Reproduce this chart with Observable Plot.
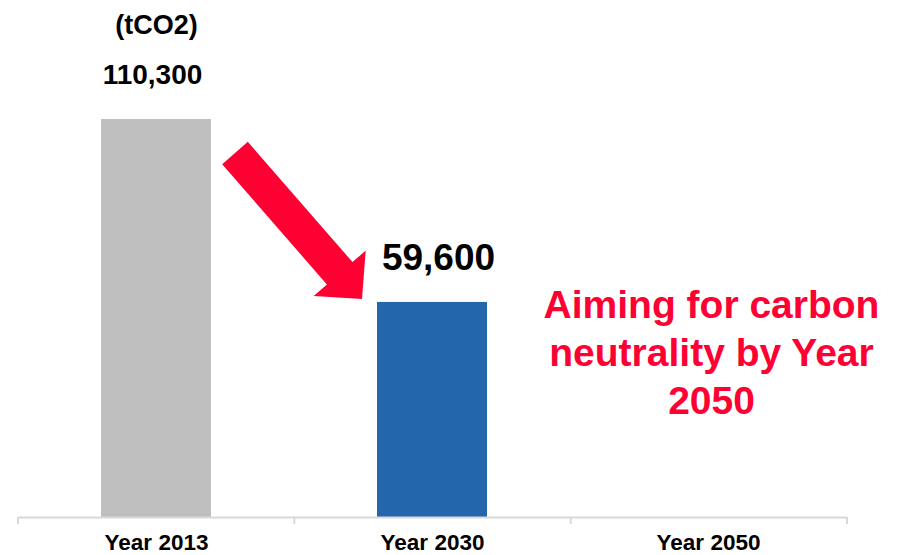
<!DOCTYPE html>
<html>
<head>
<meta charset="utf-8">
<script src="https://cdn.jsdelivr.net/npm/d3@7"></script>
<script src="https://cdn.jsdelivr.net/npm/@observablehq/plot@0.6"></script>
<style>
  html, body { margin: 0; padding: 0; background: #ffffff; }
  #chart svg { display: block; }
  #chart text { font-family: "Liberation Sans", Arial, sans-serif; }
</style>
</head>
<body>
<div id="chart"></div>
<script>
const categories = ["Year 2013", "Year 2030", "Year 2050"];
const emissions = [110300, 59600, null];
const barColors = ["#bfbfbf", "#2366ab", "#ffffff"];
const valueLabels = ["110,300", "59,600", ""];
const unitLabel = "(tCO2)";
const targetText = "Aiming for carbon\nneutrality by Year\n2050";
const accent = "#ff0033";

const data = categories.map((c, i) => ({
  category: c, value: emissions[i], color: barColors[i], label: valueLabels[i]
}));
const bars = data.filter(d => d.value != null);

const plot = Plot.plot({
  width: 897,
  height: 555,
  marginLeft: 18,
  marginRight: 50,
  marginTop: 84,
  marginBottom: 38,
  style: { background: "#ffffff", fontFamily: "Liberation Sans, Arial, sans-serif", color: "#000" },
  x: { domain: categories, paddingInner: 0.6, paddingOuter: 0.3, label: null },
  y: { domain: [0, 120000], axis: null },
  color: { type: "identity" },
  marks: [
    Plot.barY(bars, { x: "category", y: "value", fill: "color" }),
    Plot.ruleY([0], { stroke: "#d9d9d9", strokeWidth: 2 }),
    Plot.axisX({ tickSize: 0, tickPadding: 17, fontSize: 22.5, fontWeight: "bold", fill: "#000" }),
    Plot.text(bars.filter(d => d.category === categories[0]), {
      x: "category", y: "value", text: "label", fontSize: 28, fontWeight: "bold",
      lineAnchor: "bottom", dy: -36, dx: -4, fill: "#000"
    }),
    Plot.text(bars.filter(d => d.category === categories[1]), {
      x: "category", y: "value", text: "label", fontSize: 37, fontWeight: "bold",
      lineAnchor: "bottom", dy: -32, dx: 6, fill: "#000"
    }),
    Plot.text([unitLabel], {
      x: () => categories[0], y: () => emissions[0], text: d => d, fontSize: 27,
      fontWeight: "bold", lineAnchor: "bottom", dy: -86, fill: "#000"
    }),
    Plot.text([targetText], {
      x: () => categories[2], frameAnchor: "middle", text: d => d, fontSize: 39,
      fontWeight: "bold", fill: accent, lineHeight: 1.23, dx: 3, dy: 50
    })
  ]
});

// annotation: band boundary ticks and the red block arrow, placed from the scales
const xs = plot.scale("x"), ys = plot.scale("y");
const svg = d3.select(plot);
const [r0, r1] = xs.range;
const step = (r1 - r0) / categories.length;
const base = ys.apply(0);
for (let i = 0; i <= categories.length; i++) {
  svg.append("line")
    .attr("x1", r0 + i * step).attr("x2", r0 + i * step)
    .attr("y1", base).attr("y2", base + 7)
    .attr("stroke", "#d9d9d9").attr("stroke-width", 2);
}
const bw = xs.bandwidth;
const tail = [xs.apply(categories[0]) + bw + 24, ys.apply(emissions[0]) + 34];
const tip = [xs.apply(categories[1]) - 15, ys.apply(emissions[1]) - 3];
const L = Math.hypot(tip[0] - tail[0], tip[1] - tail[1]);
const u = [(tip[0] - tail[0]) / L, (tip[1] - tail[1]) / L];
const n = [-u[1], u[0]];
const sh = 17, hh = 34.5, hl = 34;
const neck = [tip[0] - u[0] * hl, tip[1] - u[1] * hl];
const P = (p, k) => [p[0] + n[0] * k, p[1] + n[1] * k];
const pts = [P(tail, sh), P(neck, sh), P(neck, hh), tip, P(neck, -hh), P(neck, -sh), P(tail, -sh)];
svg.append("path")
  .attr("d", "M" + pts.map(p => p[0].toFixed(1) + "," + p[1].toFixed(1)).join("L") + "Z")
  .attr("fill", accent);

document.getElementById("chart").appendChild(plot);
</script>
</body>
</html>
